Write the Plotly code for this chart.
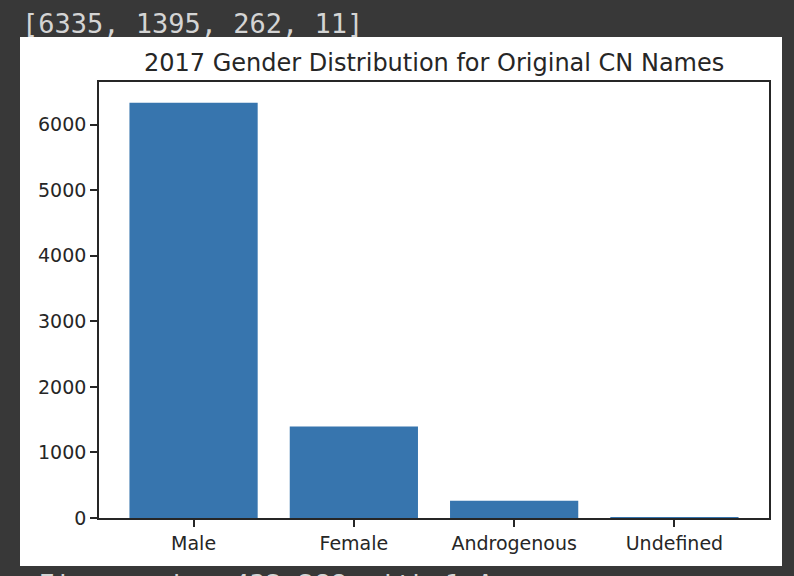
import plotly.graph_objects as go

# counts per gender class, 2017 original CN names
genders = ["Male", "Female", "Androgenous", "Undefined"]
counts = [6335, 1395, 262, 11]
y_ticks = [0, 1000, 2000, 3000, 4000, 5000, 6000]

BG = "#383838"
BAR = "#3775ae"
INK = "#262626"

# pixel box of the axes inside the 794x576 page
L, R, T, B = 99, 769, 82, 518


def px(x):
    return (x - L) / (R - L)


def py(y):
    return (B - y) / (B - T)


fig = go.Figure()
fig.add_trace(go.Bar(x=genders, y=counts, marker=dict(color=BAR, line=dict(width=0))))

# white notebook output image behind the chart
fig.add_shape(type="rect", xref="paper", yref="paper", layer="below",
              x0=px(20), x1=px(782), y0=py(566), y1=py(37),
              fillcolor="white", line=dict(width=0))

fig.add_annotation(text="2017 Gender Distribution for Original CN Names",
                   xref="paper", yref="paper", x=0.5, y=py(63),
                   xanchor="center", yanchor="middle", showarrow=False,
                   font=dict(family="DejaVu Sans", size=24, color=INK))

# notebook text output above and below the image
fig.add_annotation(text=str(counts),
                   xref="paper", yref="paper", x=px(20), y=py(23),
                   xanchor="left", yanchor="middle", showarrow=False,
                   font=dict(family="DejaVu Sans Mono", size=27, color="#d4d4d4"))
fig.add_annotation(text="&lt;Figure size 432x288 with 1 Axes&gt;",
                   xref="paper", yref="paper", x=px(20), y=py(584),
                   xanchor="left", yanchor="middle", showarrow=False,
                   font=dict(family="DejaVu Sans Mono", size=27, color="#d4d4d4"))

fig.update_layout(
    width=794, height=576,
    margin=dict(l=L, r=794 - R, t=T, b=576 - B, pad=0),
    paper_bgcolor=BG, plot_bgcolor="white",
    bargap=0.2, showlegend=False,
    font=dict(family="DejaVu Sans", size=19, color=INK),
    xaxis=dict(range=[-0.59, 3.59], showline=True, mirror=True, linecolor=INK,
               linewidth=1.6, ticks="outside", ticklen=7, tickwidth=1.6,
               tickcolor=INK, showgrid=False, zeroline=False, fixedrange=True),
    yaxis=dict(range=[0, max(counts) * 1.05], tickvals=y_ticks, tickformat="d",
               showline=True, mirror=True, linecolor=INK, linewidth=1.6,
               ticks="outside", ticklen=7, tickwidth=1.6, tickcolor=INK,
               showgrid=False, zeroline=False, fixedrange=True),
)

fig.write_html("out.html", config={"displayModeBar": False},
               post_script="document.body.style.margin='0';"
                           "document.body.style.background='%s';" % BG)
